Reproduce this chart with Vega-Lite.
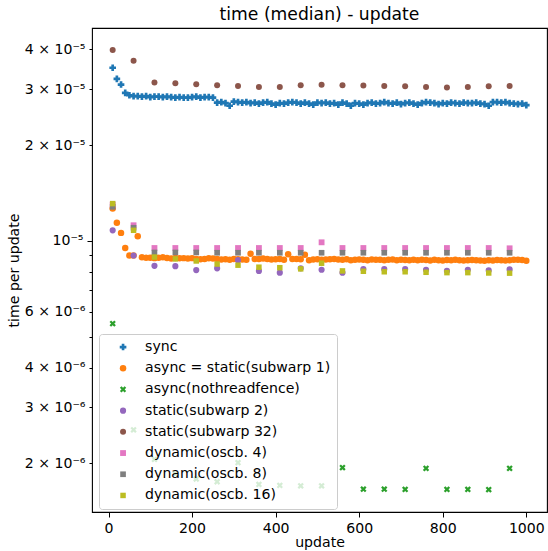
{
  "$schema": "https://vega.github.io/schema/vega-lite/v6.json",
  "width": 455,
  "height": 484,
  "autosize": {"type": "none"},
  "padding": {"left": 92, "top": 28, "right": 1, "bottom": 39},
  "background": "white",
  "config": {
    "font": "DejaVu Sans",
    "view": {"stroke": "black", "strokeWidth": 1.1},
    "axis": {"domain": false, "grid": false, "tickColor": "black", "tickWidth": 1, "labelColor": "black", "labelFontSize": 14.1, "titleColor": "black", "titleFontSize": 14.1, "titleFontWeight": "normal", "labelFont": "DejaVu Sans", "titleFont": "DejaVu Sans"}
  },
  "title": {"text": "time (median) - update", "fontSize": 17.2, "fontWeight": "normal", "color": "black", "font": "DejaVu Sans", "offset": 5},
  "data": {"values": [
    {"s":"sync","x":10,"y":3.50e-5},{"s":"sync","x":20,"y":3.23e-5},{"s":"sync","x":30,"y":3.10e-5},{"s":"sync","x":40,"y":2.92e-5},{"s":"sync","x":50,"y":2.87e-5},
    {"s":"sync","x":60,"y":2.85e-5},{"s":"sync","x":70,"y":2.85e-5},{"s":"sync","x":80,"y":2.84e-5},{"s":"sync","x":90,"y":2.85e-5},{"s":"sync","x":100,"y":2.83e-5},
    {"s":"sync","x":110,"y":2.84e-5},{"s":"sync","x":120,"y":2.84e-5},{"s":"sync","x":130,"y":2.83e-5},{"s":"sync","x":140,"y":2.84e-5},{"s":"sync","x":150,"y":2.83e-5},
    {"s":"sync","x":160,"y":2.82e-5},{"s":"sync","x":170,"y":2.83e-5},{"s":"sync","x":180,"y":2.82e-5},{"s":"sync","x":190,"y":2.82e-5},{"s":"sync","x":200,"y":2.83e-5},
    {"s":"sync","x":210,"y":2.84e-5},{"s":"sync","x":220,"y":2.82e-5},{"s":"sync","x":230,"y":2.83e-5},{"s":"sync","x":240,"y":2.83e-5},{"s":"sync","x":250,"y":2.82e-5},
    {"s":"sync","x":260,"y":2.72e-5},{"s":"sync","x":270,"y":2.73e-5},{"s":"sync","x":280,"y":2.71e-5},{"s":"sync","x":290,"y":2.66e-5},{"s":"sync","x":300,"y":2.74e-5},
    {"s":"sync","x":310,"y":2.73e-5},{"s":"sync","x":320,"y":2.72e-5},{"s":"sync","x":330,"y":2.73e-5},{"s":"sync","x":340,"y":2.71e-5},{"s":"sync","x":350,"y":2.72e-5},
    {"s":"sync","x":360,"y":2.70e-5},{"s":"sync","x":370,"y":2.72e-5},{"s":"sync","x":380,"y":2.73e-5},{"s":"sync","x":390,"y":2.70e-5},{"s":"sync","x":400,"y":2.68e-5},
    {"s":"sync","x":410,"y":2.71e-5},{"s":"sync","x":420,"y":2.70e-5},{"s":"sync","x":430,"y":2.72e-5},{"s":"sync","x":440,"y":2.73e-5},{"s":"sync","x":450,"y":2.72e-5},
    {"s":"sync","x":460,"y":2.70e-5},{"s":"sync","x":470,"y":2.72e-5},{"s":"sync","x":480,"y":2.70e-5},{"s":"sync","x":490,"y":2.68e-5},{"s":"sync","x":500,"y":2.72e-5},
    {"s":"sync","x":510,"y":2.71e-5},{"s":"sync","x":520,"y":2.72e-5},{"s":"sync","x":530,"y":2.70e-5},{"s":"sync","x":540,"y":2.71e-5},{"s":"sync","x":550,"y":2.68e-5},
    {"s":"sync","x":560,"y":2.72e-5},{"s":"sync","x":570,"y":2.70e-5},{"s":"sync","x":580,"y":2.66e-5},{"s":"sync","x":590,"y":2.71e-5},{"s":"sync","x":600,"y":2.70e-5},
    {"s":"sync","x":610,"y":2.68e-5},{"s":"sync","x":620,"y":2.71e-5},{"s":"sync","x":630,"y":2.72e-5},{"s":"sync","x":640,"y":2.70e-5},{"s":"sync","x":650,"y":2.71e-5},
    {"s":"sync","x":660,"y":2.73e-5},{"s":"sync","x":670,"y":2.71e-5},{"s":"sync","x":680,"y":2.70e-5},{"s":"sync","x":690,"y":2.72e-5},{"s":"sync","x":700,"y":2.69e-5},
    {"s":"sync","x":710,"y":2.71e-5},{"s":"sync","x":720,"y":2.72e-5},{"s":"sync","x":730,"y":2.70e-5},{"s":"sync","x":740,"y":2.68e-5},{"s":"sync","x":750,"y":2.71e-5},
    {"s":"sync","x":760,"y":2.73e-5},{"s":"sync","x":770,"y":2.72e-5},{"s":"sync","x":780,"y":2.71e-5},{"s":"sync","x":790,"y":2.69e-5},{"s":"sync","x":800,"y":2.71e-5},
    {"s":"sync","x":810,"y":2.70e-5},{"s":"sync","x":820,"y":2.72e-5},{"s":"sync","x":830,"y":2.71e-5},{"s":"sync","x":840,"y":2.70e-5},{"s":"sync","x":850,"y":2.72e-5},
    {"s":"sync","x":860,"y":2.71e-5},{"s":"sync","x":870,"y":2.71e-5},{"s":"sync","x":880,"y":2.72e-5},{"s":"sync","x":890,"y":2.70e-5},{"s":"sync","x":900,"y":2.69e-5},
    {"s":"sync","x":910,"y":2.66e-5},{"s":"sync","x":920,"y":2.73e-5},{"s":"sync","x":930,"y":2.73e-5},{"s":"sync","x":940,"y":2.72e-5},{"s":"sync","x":950,"y":2.73e-5},
    {"s":"sync","x":960,"y":2.71e-5},{"s":"sync","x":970,"y":2.70e-5},{"s":"sync","x":980,"y":2.69e-5},{"s":"sync","x":990,"y":2.70e-5},{"s":"sync","x":1000,"y":2.67e-5},

    {"s":"async = static(subwarp 1)","x":10,"y":12.65e-6},{"s":"async = static(subwarp 1)","x":20,"y":11.4e-6},{"s":"async = static(subwarp 1)","x":30,"y":10.6e-6},{"s":"async = static(subwarp 1)","x":40,"y":9.5e-6},{"s":"async = static(subwarp 1)","x":50,"y":9.0e-6},
    {"s":"async = static(subwarp 1)","x":60,"y":9.0e-6},{"s":"async = static(subwarp 1)","x":70,"y":10.35e-6},{"s":"async = static(subwarp 1)","x":80,"y":8.88e-6},{"s":"async = static(subwarp 1)","x":90,"y":8.86e-6},{"s":"async = static(subwarp 1)","x":100,"y":8.85e-6},
    {"s":"async = static(subwarp 1)","x":110,"y":8.83e-6},{"s":"async = static(subwarp 1)","x":120,"y":8.86e-6},{"s":"async = static(subwarp 1)","x":130,"y":8.88e-6},{"s":"async = static(subwarp 1)","x":140,"y":8.84e-6},{"s":"async = static(subwarp 1)","x":150,"y":8.8e-6},
    {"s":"async = static(subwarp 1)","x":160,"y":8.84e-6},{"s":"async = static(subwarp 1)","x":170,"y":8.82e-6},{"s":"async = static(subwarp 1)","x":180,"y":8.83e-6},{"s":"async = static(subwarp 1)","x":190,"y":8.81e-6},{"s":"async = static(subwarp 1)","x":200,"y":8.83e-6},
    {"s":"async = static(subwarp 1)","x":210,"y":8.78e-6},{"s":"async = static(subwarp 1)","x":220,"y":8.76e-6},{"s":"async = static(subwarp 1)","x":230,"y":8.78e-6},{"s":"async = static(subwarp 1)","x":240,"y":8.82e-6},{"s":"async = static(subwarp 1)","x":250,"y":8.8e-6},
    {"s":"async = static(subwarp 1)","x":260,"y":8.78e-6},{"s":"async = static(subwarp 1)","x":270,"y":8.74e-6},{"s":"async = static(subwarp 1)","x":280,"y":8.76e-6},{"s":"async = static(subwarp 1)","x":290,"y":8.73e-6},{"s":"async = static(subwarp 1)","x":300,"y":8.78e-6},
    {"s":"async = static(subwarp 1)","x":310,"y":8.76e-6},{"s":"async = static(subwarp 1)","x":320,"y":8.74e-6},{"s":"async = static(subwarp 1)","x":330,"y":8.73e-6},{"s":"async = static(subwarp 1)","x":340,"y":9.12e-6},{"s":"async = static(subwarp 1)","x":350,"y":8.78e-6},
    {"s":"async = static(subwarp 1)","x":360,"y":8.78e-6},{"s":"async = static(subwarp 1)","x":370,"y":8.8e-6},{"s":"async = static(subwarp 1)","x":380,"y":8.78e-6},{"s":"async = static(subwarp 1)","x":390,"y":8.74e-6},{"s":"async = static(subwarp 1)","x":400,"y":8.76e-6},
    {"s":"async = static(subwarp 1)","x":410,"y":8.78e-6},{"s":"async = static(subwarp 1)","x":420,"y":8.73e-6},{"s":"async = static(subwarp 1)","x":430,"y":9.08e-6},{"s":"async = static(subwarp 1)","x":440,"y":8.78e-6},{"s":"async = static(subwarp 1)","x":450,"y":8.78e-6},
    {"s":"async = static(subwarp 1)","x":460,"y":8.76e-6},{"s":"async = static(subwarp 1)","x":470,"y":9.05e-6},{"s":"async = static(subwarp 1)","x":480,"y":8.7e-6},{"s":"async = static(subwarp 1)","x":490,"y":8.74e-6},{"s":"async = static(subwarp 1)","x":500,"y":8.76e-6},
    {"s":"async = static(subwarp 1)","x":510,"y":8.72e-6},{"s":"async = static(subwarp 1)","x":520,"y":8.74e-6},{"s":"async = static(subwarp 1)","x":530,"y":8.76e-6},{"s":"async = static(subwarp 1)","x":540,"y":8.78e-6},{"s":"async = static(subwarp 1)","x":550,"y":8.74e-6},
    {"s":"async = static(subwarp 1)","x":560,"y":8.72e-6},{"s":"async = static(subwarp 1)","x":570,"y":8.76e-6},{"s":"async = static(subwarp 1)","x":580,"y":8.7e-6},{"s":"async = static(subwarp 1)","x":590,"y":8.73e-6},{"s":"async = static(subwarp 1)","x":600,"y":8.75e-6},
    {"s":"async = static(subwarp 1)","x":610,"y":8.72e-6},{"s":"async = static(subwarp 1)","x":620,"y":8.7e-6},{"s":"async = static(subwarp 1)","x":630,"y":8.74e-6},{"s":"async = static(subwarp 1)","x":640,"y":8.72e-6},{"s":"async = static(subwarp 1)","x":650,"y":8.73e-6},
    {"s":"async = static(subwarp 1)","x":660,"y":8.7e-6},{"s":"async = static(subwarp 1)","x":670,"y":8.72e-6},{"s":"async = static(subwarp 1)","x":680,"y":8.74e-6},{"s":"async = static(subwarp 1)","x":690,"y":8.7e-6},{"s":"async = static(subwarp 1)","x":700,"y":8.72e-6},
    {"s":"async = static(subwarp 1)","x":710,"y":8.71e-6},{"s":"async = static(subwarp 1)","x":720,"y":8.69e-6},{"s":"async = static(subwarp 1)","x":730,"y":8.72e-6},{"s":"async = static(subwarp 1)","x":740,"y":8.7e-6},{"s":"async = static(subwarp 1)","x":750,"y":8.73e-6},
    {"s":"async = static(subwarp 1)","x":760,"y":8.71e-6},{"s":"async = static(subwarp 1)","x":770,"y":8.68e-6},{"s":"async = static(subwarp 1)","x":780,"y":8.72e-6},{"s":"async = static(subwarp 1)","x":790,"y":8.7e-6},{"s":"async = static(subwarp 1)","x":800,"y":8.68e-6},
    {"s":"async = static(subwarp 1)","x":810,"y":8.71e-6},{"s":"async = static(subwarp 1)","x":820,"y":8.69e-6},{"s":"async = static(subwarp 1)","x":830,"y":8.72e-6},{"s":"async = static(subwarp 1)","x":840,"y":8.7e-6},{"s":"async = static(subwarp 1)","x":850,"y":8.68e-6},
    {"s":"async = static(subwarp 1)","x":860,"y":8.69e-6},{"s":"async = static(subwarp 1)","x":870,"y":8.71e-6},{"s":"async = static(subwarp 1)","x":880,"y":8.7e-6},{"s":"async = static(subwarp 1)","x":890,"y":8.68e-6},{"s":"async = static(subwarp 1)","x":900,"y":8.66e-6},
    {"s":"async = static(subwarp 1)","x":910,"y":8.7e-6},{"s":"async = static(subwarp 1)","x":920,"y":8.68e-6},{"s":"async = static(subwarp 1)","x":930,"y":8.71e-6},{"s":"async = static(subwarp 1)","x":940,"y":8.69e-6},{"s":"async = static(subwarp 1)","x":950,"y":8.68e-6},
    {"s":"async = static(subwarp 1)","x":960,"y":8.7e-6},{"s":"async = static(subwarp 1)","x":970,"y":8.72e-6},{"s":"async = static(subwarp 1)","x":980,"y":8.73e-6},{"s":"async = static(subwarp 1)","x":990,"y":8.71e-6},{"s":"async = static(subwarp 1)","x":1000,"y":8.66e-6},

    {"s":"async(nothreadfence)","x":10,"y":5.5e-6},{"s":"async(nothreadfence)","x":60,"y":2.55e-6},{"s":"async(nothreadfence)","x":110,"y":2.06e-6},{"s":"async(nothreadfence)","x":160,"y":1.856e-6},{"s":"async(nothreadfence)","x":210,"y":1.786e-6},
    {"s":"async(nothreadfence)","x":260,"y":1.751e-6},{"s":"async(nothreadfence)","x":310,"y":2.01e-6},{"s":"async(nothreadfence)","x":360,"y":1.718e-6},{"s":"async(nothreadfence)","x":410,"y":1.705e-6},{"s":"async(nothreadfence)","x":460,"y":1.70e-6},
    {"s":"async(nothreadfence)","x":510,"y":1.70e-6},{"s":"async(nothreadfence)","x":560,"y":1.94e-6},{"s":"async(nothreadfence)","x":610,"y":1.66e-6},{"s":"async(nothreadfence)","x":660,"y":1.66e-6},{"s":"async(nothreadfence)","x":710,"y":1.657e-6},
    {"s":"async(nothreadfence)","x":760,"y":1.93e-6},{"s":"async(nothreadfence)","x":810,"y":1.657e-6},{"s":"async(nothreadfence)","x":860,"y":1.657e-6},{"s":"async(nothreadfence)","x":910,"y":1.655e-6},{"s":"async(nothreadfence)","x":960,"y":1.93e-6},

    {"s":"static(subwarp 2)","x":10,"y":10.8e-6},{"s":"static(subwarp 2)","x":60,"y":9.0e-6},{"s":"static(subwarp 2)","x":110,"y":8.35e-6},{"s":"static(subwarp 2)","x":160,"y":8.33e-6},{"s":"static(subwarp 2)","x":210,"y":8.1e-6},
    {"s":"static(subwarp 2)","x":260,"y":8.2e-6},{"s":"static(subwarp 2)","x":310,"y":8.7e-6},{"s":"static(subwarp 2)","x":360,"y":8.05e-6},{"s":"static(subwarp 2)","x":410,"y":7.95e-6},{"s":"static(subwarp 2)","x":460,"y":8.2e-6},
    {"s":"static(subwarp 2)","x":510,"y":8.12e-6},{"s":"static(subwarp 2)","x":560,"y":7.95e-6},{"s":"static(subwarp 2)","x":610,"y":8.15e-6},{"s":"static(subwarp 2)","x":660,"y":8.15e-6},{"s":"static(subwarp 2)","x":710,"y":8.15e-6},
    {"s":"static(subwarp 2)","x":760,"y":8.12e-6},{"s":"static(subwarp 2)","x":810,"y":8.05e-6},{"s":"static(subwarp 2)","x":860,"y":8.12e-6},{"s":"static(subwarp 2)","x":910,"y":8.08e-6},{"s":"static(subwarp 2)","x":960,"y":8.14e-6},

    {"s":"static(subwarp 32)","x":10,"y":3.98e-5},{"s":"static(subwarp 32)","x":60,"y":3.68e-5},{"s":"static(subwarp 32)","x":110,"y":3.146e-5},{"s":"static(subwarp 32)","x":160,"y":3.13e-5},{"s":"static(subwarp 32)","x":210,"y":3.108e-5},
    {"s":"static(subwarp 32)","x":260,"y":3.085e-5},{"s":"static(subwarp 32)","x":310,"y":3.07e-5},{"s":"static(subwarp 32)","x":360,"y":3.048e-5},{"s":"static(subwarp 32)","x":410,"y":3.048e-5},{"s":"static(subwarp 32)","x":460,"y":3.085e-5},
    {"s":"static(subwarp 32)","x":510,"y":3.093e-5},{"s":"static(subwarp 32)","x":560,"y":3.085e-5},{"s":"static(subwarp 32)","x":610,"y":3.078e-5},{"s":"static(subwarp 32)","x":660,"y":3.07e-5},{"s":"static(subwarp 32)","x":710,"y":3.063e-5},
    {"s":"static(subwarp 32)","x":760,"y":3.048e-5},{"s":"static(subwarp 32)","x":810,"y":3.033e-5},{"s":"static(subwarp 32)","x":860,"y":3.048e-5},{"s":"static(subwarp 32)","x":910,"y":3.063e-5},{"s":"static(subwarp 32)","x":960,"y":3.07e-5},

    {"s":"dynamic(oscb. 4)","x":10,"y":13.0e-6},{"s":"dynamic(oscb. 4)","x":60,"y":11.2e-6},{"s":"dynamic(oscb. 4)","x":110,"y":9.5e-6},{"s":"dynamic(oscb. 4)","x":160,"y":9.5e-6},{"s":"dynamic(oscb. 4)","x":210,"y":9.5e-6},
    {"s":"dynamic(oscb. 4)","x":260,"y":9.5e-6},{"s":"dynamic(oscb. 4)","x":310,"y":9.5e-6},{"s":"dynamic(oscb. 4)","x":360,"y":9.5e-6},{"s":"dynamic(oscb. 4)","x":410,"y":9.5e-6},{"s":"dynamic(oscb. 4)","x":460,"y":9.5e-6},
    {"s":"dynamic(oscb. 4)","x":510,"y":9.9e-6},{"s":"dynamic(oscb. 4)","x":560,"y":9.5e-6},{"s":"dynamic(oscb. 4)","x":610,"y":9.5e-6},{"s":"dynamic(oscb. 4)","x":660,"y":9.5e-6},{"s":"dynamic(oscb. 4)","x":710,"y":9.5e-6},
    {"s":"dynamic(oscb. 4)","x":760,"y":9.5e-6},{"s":"dynamic(oscb. 4)","x":810,"y":9.5e-6},{"s":"dynamic(oscb. 4)","x":860,"y":9.5e-6},{"s":"dynamic(oscb. 4)","x":910,"y":9.5e-6},{"s":"dynamic(oscb. 4)","x":960,"y":9.48e-6},

    {"s":"dynamic(oscb. 8)","x":10,"y":12.8e-6},{"s":"dynamic(oscb. 8)","x":60,"y":11.0e-6},{"s":"dynamic(oscb. 8)","x":110,"y":9.2e-6},{"s":"dynamic(oscb. 8)","x":160,"y":9.2e-6},{"s":"dynamic(oscb. 8)","x":210,"y":9.2e-6},
    {"s":"dynamic(oscb. 8)","x":260,"y":9.18e-6},{"s":"dynamic(oscb. 8)","x":310,"y":9.18e-6},{"s":"dynamic(oscb. 8)","x":360,"y":9.18e-6},{"s":"dynamic(oscb. 8)","x":410,"y":9.18e-6},{"s":"dynamic(oscb. 8)","x":460,"y":9.18e-6},
    {"s":"dynamic(oscb. 8)","x":510,"y":9.18e-6},{"s":"dynamic(oscb. 8)","x":560,"y":9.18e-6},{"s":"dynamic(oscb. 8)","x":610,"y":9.18e-6},{"s":"dynamic(oscb. 8)","x":660,"y":9.18e-6},{"s":"dynamic(oscb. 8)","x":710,"y":9.18e-6},
    {"s":"dynamic(oscb. 8)","x":760,"y":9.18e-6},{"s":"dynamic(oscb. 8)","x":810,"y":9.18e-6},{"s":"dynamic(oscb. 8)","x":860,"y":9.18e-6},{"s":"dynamic(oscb. 8)","x":910,"y":9.18e-6},{"s":"dynamic(oscb. 8)","x":960,"y":9.18e-6},

    {"s":"dynamic(oscb. 16)","x":10,"y":13.1e-6},{"s":"dynamic(oscb. 16)","x":60,"y":10.8e-6},{"s":"dynamic(oscb. 16)","x":110,"y":8.9e-6},{"s":"dynamic(oscb. 16)","x":160,"y":8.78e-6},{"s":"dynamic(oscb. 16)","x":210,"y":8.65e-6},
    {"s":"dynamic(oscb. 16)","x":260,"y":8.46e-6},{"s":"dynamic(oscb. 16)","x":310,"y":8.39e-6},{"s":"dynamic(oscb. 16)","x":360,"y":8.27e-6},{"s":"dynamic(oscb. 16)","x":410,"y":8.24e-6},{"s":"dynamic(oscb. 16)","x":460,"y":8.17e-6},
    {"s":"dynamic(oscb. 16)","x":510,"y":8.51e-6},{"s":"dynamic(oscb. 16)","x":560,"y":8.05e-6},{"s":"dynamic(oscb. 16)","x":610,"y":8.03e-6},{"s":"dynamic(oscb. 16)","x":660,"y":8.0e-6},{"s":"dynamic(oscb. 16)","x":710,"y":8.0e-6},
    {"s":"dynamic(oscb. 16)","x":760,"y":7.97e-6},{"s":"dynamic(oscb. 16)","x":810,"y":7.95e-6},{"s":"dynamic(oscb. 16)","x":860,"y":7.95e-6},{"s":"dynamic(oscb. 16)","x":910,"y":7.93e-6},{"s":"dynamic(oscb. 16)","x":960,"y":7.92e-6}
  ]},
  "mark": {"type": "point", "filled": true, "opacity": 1},
  "encoding": {
    "x": {"field": "x", "type": "quantitative", "scale": {"domain": [-39.5, 1049.5], "nice": false, "zero": false},
      "axis": {"values": [0, 200, 400, 600, 800, 1000], "format": "d", "title": "update", "titlePadding": 0, "tickSize": 5, "labelPadding": 4}},
    "y": {"field": "y", "type": "quantitative", "scale": {"type": "log", "domain": [1.407e-6, 4.667e-5], "nice": false},
      "axis": {"values": [2e-6, 3e-6, 4e-6, 5e-6, 6e-6, 7e-6, 8e-6, 9e-6, 1e-5, 2e-5, 3e-5, 4e-5], "title": "time per update", "titlePadding": 3,
        "tickSize": {"condition": {"test": "datum.value == 1e-5", "value": 5}, "value": 3}, "labelPadding": 4,
        "labelExpr": "format(datum.value,'.0e') == '2e-6' ? '2 × 10⁻⁶' : format(datum.value,'.0e') == '3e-6' ? '3 × 10⁻⁶' : format(datum.value,'.0e') == '4e-6' ? '4 × 10⁻⁶' : format(datum.value,'.0e') == '6e-6' ? '6 × 10⁻⁶' : format(datum.value,'.0e') == '1e-5' ? '10⁻⁵' : format(datum.value,'.0e') == '2e-5' ? '2 × 10⁻⁵' : format(datum.value,'.0e') == '3e-5' ? '3 × 10⁻⁵' : format(datum.value,'.0e') == '4e-5' ? '4 × 10⁻⁵' : ''"}},
    "color": {"field": "s", "type": "nominal",
      "scale": {"domain": ["sync", "async = static(subwarp 1)", "async(nothreadfence)", "static(subwarp 2)", "static(subwarp 32)", "dynamic(oscb. 4)", "dynamic(oscb. 8)", "dynamic(oscb. 16)"],
        "range": ["#1f77b4", "#ff7f0e", "#2ca02c", "#9467bd", "#8c564b", "#e377c2", "#7f7f7f", "#bcbd22"]},
      "legend": {"orient": "none", "legendX": 7, "legendY": 306, "title": null, "labelFontSize": 14.1, "labelFont": "DejaVu Sans", "labelColor": "black", "labelLimit": 0, "symbolSize": 30, "symbolOpacity": 1, "rowPadding": 6.2, "padding": 6, "symbolOffset": 11, "labelOffset": 15, "fillColor": "rgba(255,255,255,0.8)", "strokeColor": "#cccccc", "cornerRadius": 3}},
    "shape": {"field": "s", "type": "nominal",
      "scale": {"domain": ["sync", "async = static(subwarp 1)", "async(nothreadfence)", "static(subwarp 2)", "static(subwarp 32)", "dynamic(oscb. 4)", "dynamic(oscb. 8)", "dynamic(oscb. 16)"],
        "range": ["M-0.4,-1H0.4V-0.4H1V0.4H0.4V1H-0.4V0.4H-1V-0.4H-0.4Z", "circle", "M-0.5,-1L0,-0.5L0.5,-1L1,-0.5L0.5,0L1,0.5L0.5,1L0,0.5L-0.5,1L-1,0.5L-0.5,0L-1,-0.5Z", "circle", "circle", "square", "square", "square"]}},
    "size": {"field": "s", "type": "nominal", "legend": null,
      "scale": {"domain": ["sync", "async = static(subwarp 1)", "async(nothreadfence)", "static(subwarp 2)", "static(subwarp 32)", "dynamic(oscb. 4)", "dynamic(oscb. 8)", "dynamic(oscb. 16)"],
        "range": [44, 30, 40, 30, 30, 30, 30, 30]}}
  }
}
